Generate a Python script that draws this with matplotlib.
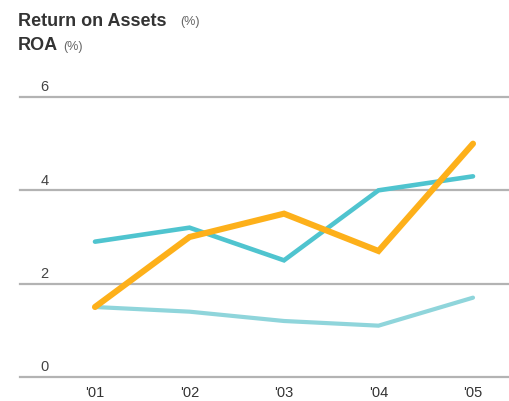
import matplotlib
matplotlib.use('Agg')
from matplotlib import pyplot as plt

years = ["'01", "'02", "'03", "'04", "'05"]
roa_teal = [2.9, 3.2, 2.5, 4.0, 4.3]
roa_orange = [1.5, 3.0, 3.5, 2.7, 5.0]
roa_light = [1.5, 1.4, 1.2, 1.1, 1.7]
yticks = [0, 2, 4, 6]

plt.rcParams['font.family'] = ['Liberation Sans Narrow', 'Liberation Sans', 'DejaVu Sans']

W, H = 509, 402
fig = plt.figure(figsize=(W / 100, H / 100), dpi=100)
ax = fig.add_axes([20 / W, 1 - 378 / H, 1 - 20 / W, (378 - 98) / H])

x = list(range(len(years)))
ax.set_xlim(-75 / 94.5, 4 + 36 / 94.5)
ax.set_ylim(0, 6)

for t in yticks:
    ax.axhline(t, color='#b3b3b3', lw=1.6, zorder=1, clip_on=False)
    ax.text(-0.58, t + 0.08, str(t), fontsize=10.5, color='#444444', ha='left', va='bottom')

ax.plot(x, roa_light, color='#8fd5db', lw=3.0, solid_capstyle='round', solid_joinstyle='miter', zorder=2)
ax.plot(x, roa_teal, color='#4fc4cf', lw=3.3, solid_capstyle='round', solid_joinstyle='miter', zorder=3)
ax.plot(x, roa_orange, color='#fdb01a', lw=4.4, solid_capstyle='round', solid_joinstyle='miter', zorder=4)

for xi, lab in zip(x, years):
    ax.text(xi, -0.18, lab, fontsize=10.5, color='#333333', ha='center', va='top')

for s in ax.spines.values():
    s.set_visible(False)
ax.set_xticks([])
ax.set_yticks([])

fig.text(18 / W, 1 - 21 / H, 'Return on Assets', fontsize=13, fontweight='bold', color='#333333', va='center')
fig.text(180 / W, 1 - 22 / H, '(%)', fontsize=9, color='#666666', va='center')
fig.text(18 / W, 1 - 46 / H, 'ROA', fontsize=13, fontweight='bold', color='#333333', va='center')
fig.text(63 / W, 1 - 47 / H, '(%)', fontsize=9, color='#666666', va='center')

fig.savefig('out.png', dpi=100)
plt.close()
